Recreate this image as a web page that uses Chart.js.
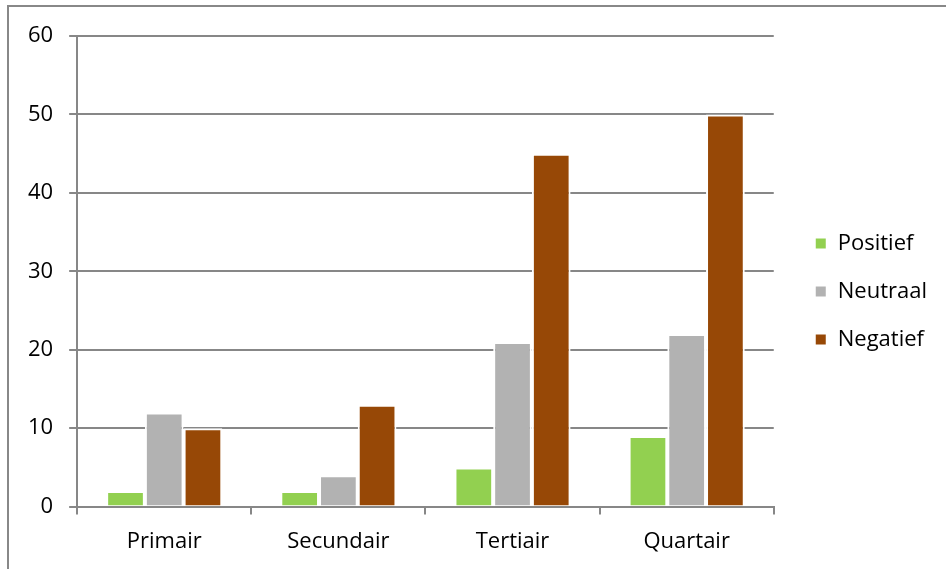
<!DOCTYPE html>
<html>
<head>
<meta charset="utf-8">
<script src="https://cdn.jsdelivr.net/npm/chart.js"></script>
<style>
  html, body { margin: 0; padding: 0; background: #fff; overflow: hidden; }
  #frame { position: absolute; left: 7px; top: 5px; width: 1000px; height: 700px; border: 2px solid #888; }
  #wrap { position: absolute; left: 0; top: 0; width: 946px; height: 569px; }
</style>
</head>
<body>
<div id="frame"></div>
<div id="wrap"><canvas id="chart"></canvas></div>
<script>
// sectors and opinion counts
const categories = ['Primair', 'Secundair', 'Tertiair', 'Quartair'];
const positief = [2, 2, 5, 9];
const neutraal = [12, 4, 21, 22];
const negatief = [10, 13, 45, 50];

const gridGray = '#878787';
const fontFam = '"Open Sans", "Noto Sans", sans-serif';
const legendGap = 15;
const legendLift = 11;

// push the legend away from the plot without moving its text
const legendSpacer = {
  id: 'legendSpacer',
  beforeInit(chart) {
    const fit = chart.legend.fit;
    chart.legend.fit = function () {
      fit.call(this);
      this.width += legendGap;
    };
  },
  afterLayout(chart) {
    const lg = chart.legend;
    lg.left += legendGap;
    lg.top -= legendLift;
    lg.bottom -= legendLift;
  }
};

new Chart(document.getElementById('chart'), {
  type: 'bar',
  data: {
    labels: categories,
    datasets: [
      { label: 'Positief', data: positief, backgroundColor: '#92d050' },
      { label: 'Neutraal', data: neutraal, backgroundColor: '#b2b2b2' },
      { label: 'Negatief', data: negatief, backgroundColor: '#974806' }
    ].map(d => Object.assign(d, { borderColor: '#ffffff', borderWidth: 2, categoryPercentage: 0.667, barPercentage: 1 }))
  },
  plugins: [legendSpacer],
  options: {
    responsive: true,
    maintainAspectRatio: false,
    animation: false,
    layout: { padding: { top: 36, left: 12, right: 9, bottom: 0 } },
    plugins: {
      tooltip: { enabled: false },
      legend: {
        position: 'right',
        labels: {
          color: '#000',
          boxWidth: 12,
          boxHeight: 12,
          padding: 26,
          font: { family: fontFam, size: 22 }
        }
      }
    },
    scales: {
      x: {
        grid: { drawOnChartArea: false, offset: true, color: gridGray, lineWidth: 2, tickLength: 8 },
        border: { color: gridGray, width: 2 },
        ticks: { color: '#000', padding: 14, font: { family: fontFam, size: 22 } }
      },
      y: {
        min: 0,
        max: 60,
        grid: { color: gridGray, lineWidth: 2, tickLength: 8 },
        border: { color: gridGray, width: 2 },
        ticks: { stepSize: 10, color: '#000', padding: 16, font: { family: fontFam, size: 22 } }
      }
    }
  }
});
</script>
</body>
</html>
